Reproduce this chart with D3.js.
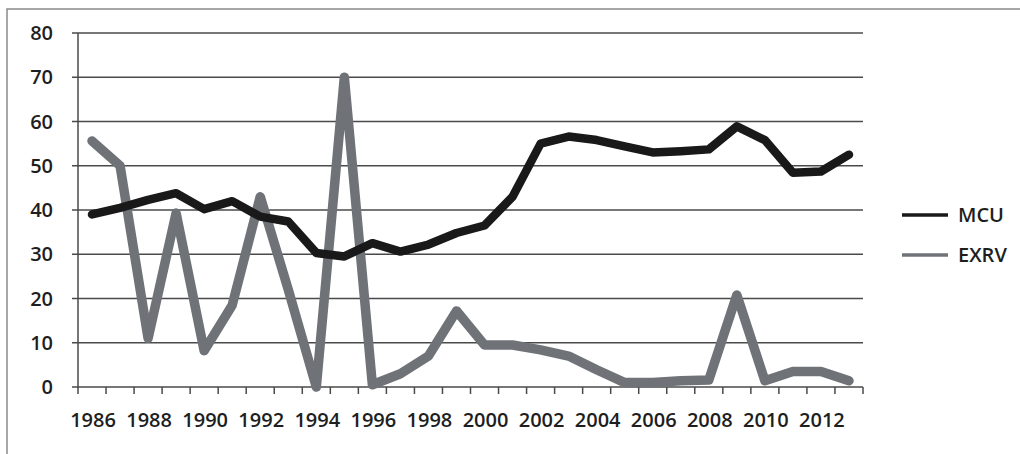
<!DOCTYPE html>
<html>
<head>
<meta charset="utf-8">
<script src="https://cdn.jsdelivr.net/npm/d3@7"></script>
<style>
  body { margin: 0; background: #fff; }
  text { font-family: "Open Sans", sans-serif; fill: #1e1e1e; font-weight: 600; }
</style>
</head>
<body>
<svg id="chart" width="1020" height="454"></svg>
<script>
// Data
const years = d3.range(1986, 2014);
const mcu = [39, 40.5, 42.3, 43.8, 40.2, 42, 38.5, 37.4, 30.3, 29.5, 32.5, 30.6, 32.2, 34.8, 36.5,
             43, 55, 56.6, 55.8, 54.4, 53, 53.3, 53.7, 58.9, 55.8, 48.4, 48.7, 52.5];
const exrv = [55.6, 50, 11, 39.3, 8.2, 18.5, 43, 22, 0, 70, 0.5, 3, 7, 17.2, 9.5,
              9.5, 8.4, 7, 3.9, 1, 1, 1.4, 1.6, 20.8, 1.4, 3.5, 3.5, 1.4];
const yTicks = [0, 10, 20, 30, 40, 50, 60, 70, 80];
const series = [
  { name: 'MCU', values: mcu, color: '#19191a', width: 8.5 },
  { name: 'EXRV', values: exrv, color: '#6f7378', width: 9.5 }
];

const svg = d3.select('#chart');

// Outer frame
svg.append('rect')
  .attr('x', 7).attr('y', 9)
  .attr('width', 1030).attr('height', 460)
  .attr('fill', 'none')
  .attr('stroke', '#8a8a8a')
  .attr('stroke-width', 1.5);

const plot = { left: 78, right: 863, top: 33, bottom: 387 };

const x = d3.scaleBand().domain(years).range([plot.left, plot.right]);
const y = d3.scaleLinear().domain([0, 80]).range([plot.bottom, plot.top]);

// Gridlines
svg.append('g')
  .selectAll('line')
  .data(yTicks)
  .join('line')
  .attr('x1', plot.left - 6).attr('x2', plot.right)
  .attr('y1', d => y(d)).attr('y2', d => y(d))
  .attr('stroke', '#4a4a4a')
  .attr('stroke-width', 1.5);

// Y axis labels
svg.append('g')
  .selectAll('text')
  .data(yTicks)
  .join('text')
  .attr('x', 53)
  .attr('y', d => y(d))
  .attr('dy', '0.35em')
  .attr('text-anchor', 'end')
  .attr('font-size', 20)
  .text(d => d);

// Y axis line
svg.append('line')
  .attr('x1', plot.left).attr('x2', plot.left)
  .attr('y1', plot.top).attr('y2', plot.bottom)
  .attr('stroke', '#4a4a4a').attr('stroke-width', 1.5);

// X axis ticks at category boundaries
const bounds = years.map(d => x(d)).concat([plot.right]);
svg.append('g')
  .selectAll('line')
  .data(bounds)
  .join('line')
  .attr('x1', d => d).attr('x2', d => d)
  .attr('y1', plot.bottom).attr('y2', plot.bottom + 7)
  .attr('stroke', '#4a4a4a').attr('stroke-width', 1.5);

// X axis labels, every other year
svg.append('g')
  .selectAll('text')
  .data(years.filter((d, i) => i % 2 === 0))
  .join('text')
  .attr('x', d => x(d) + x.bandwidth() / 2 + 1)
  .attr('y', 420)
  .attr('dy', '0.35em')
  .attr('text-anchor', 'middle')
  .attr('font-size', 20)
  .text(d => d);

// Lines
const line = d3.line()
  .x((d, i) => x(years[i]) + x.bandwidth() / 2)
  .y(d => y(d));

svg.append('g')
  .selectAll('path')
  .data(series.slice().reverse())
  .join('path')
  .attr('d', d => line(d.values))
  .attr('fill', 'none')
  .attr('stroke', d => d.color)
  .attr('stroke-width', d => d.width)
  .attr('stroke-linejoin', 'round')
  .attr('stroke-linecap', 'round');

// Legend
const legend = svg.append('g')
  .selectAll('g')
  .data(series)
  .join('g')
  .attr('transform', (d, i) => `translate(902, ${215 + i * 40})`);

legend.append('line')
  .attr('x1', 0).attr('x2', 46)
  .attr('stroke', d => d.color)
  .attr('stroke-width', 3.5);

legend.append('text')
  .attr('x', 56)
  .attr('dy', '0.35em')
  .attr('font-size', 20)
  .text(d => d.name);
</script>
</body>
</html>
